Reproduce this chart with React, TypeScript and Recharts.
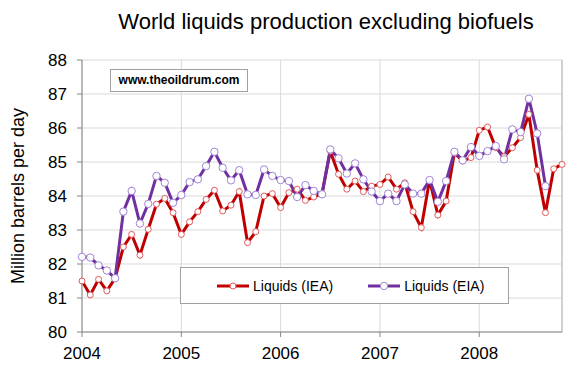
import { CartesianGrid, Line, LineChart, ReferenceLine, XAxis, YAxis } from 'recharts'

// month index 0 = Jan 2004
const yearTicks = [0, 12, 24, 36, 48]
const yearLabels = ['2004', '2005', '2006', '2007', '2008']
const yTicks = [80, 81, 82, 83, 84, 85, 86, 87, 88]

const ieaValues = [
    81.5, 81.09, 81.55, 81.21, 81.58, 82.5, 82.87, 82.26, 83.02, 83.76,
    83.93, 83.51, 82.87, 83.24, 83.54, 83.9, 84.17, 83.56, 83.73, 84.13,
    82.63, 82.95, 84.0, 84.07, 83.66, 84.1, 84.2, 83.87, 83.97, 84.07,
    85.32, 84.64, 84.2, 84.44, 84.13, 84.29, 84.34, 84.56, 84.2, 84.39,
    83.54, 83.07, 84.47, 83.44, 83.85, 85.27, 85.03, 85.13, 85.93, 86.03,
    85.42, 85.16, 85.42, 85.72, 86.4, 84.76, 83.51, 84.8, 84.93,
]

const eiaValues = [
    82.21, 82.19, 81.96, 81.81, 81.58, 83.54, 84.15, 83.19, 83.77, 84.59,
    84.39, 83.8, 84.03, 84.41, 84.49, 84.88, 85.3, 84.83, 84.46, 84.76,
    84.05, 84.03, 84.78, 84.59, 84.47, 84.44, 83.97, 84.32, 84.15, 84.05,
    85.37, 85.11, 84.66, 84.96, 84.49, 84.13, 83.85, 84.07, 83.85, 84.34,
    84.07, 84.07, 84.47, 83.83, 84.44, 85.3, 85.05, 85.44, 85.18, 85.32,
    85.47, 85.08, 85.96, 85.88, 86.86, 85.84, 84.29,
]

const data = ieaValues.map((v, i) => ({
    i,
    iea: v,
    eia: i < eiaValues.length ? eiaValues[i] : null,
}))

const FONT = '"Liberation Sans", Arial, sans-serif'
const RED = '#c00000'
const RED_DOT = '#e35a5a'
const PURPLE = '#7030a0'
const PURPLE_DOT = '#a184d6'

const tick = { fill: '#000', fontSize: 17, fontFamily: FONT }
const axisStroke = '#868686'

function LegendItem({ color, dot, label, r }: { color: string; dot: string; label: string; r: number }) {
    return (
        <div style={{ display: 'flex', alignItems: 'center' }}>
            <svg width={34} height={12}>
                <line x1={1} y1={6} x2={33} y2={6} stroke={color} strokeWidth={3} />
                <circle cx={17} cy={6} r={r} fill="#fff" stroke={dot} strokeWidth={1} />
            </svg>
            <span style={{ marginLeft: 3, fontSize: 14 }}>{label}</span>
        </div>
    )
}

export default function App() {
    return (
        <div
            style={{
                position: 'absolute',
                left: 0,
                top: 0,
                width: 585,
                height: 377,
                background: '#fff',
                fontFamily: FONT,
            }}
        >
            <div
                style={{
                    position: 'absolute',
                    left: 0,
                    width: 652,
                    top: 9,
                    textAlign: 'center',
                    fontSize: 22,
                }}
            >
                World liquids production excluding biofuels
            </div>
            <div
                style={{
                    position: 'absolute',
                    left: 18,
                    top: 196,
                    transform: 'translate(-50%, -50%) rotate(-90deg)',
                    whiteSpace: 'nowrap',
                    fontSize: 18,
                }}
            >
                Million barrels per day
            </div>
            <LineChart
                width={585}
                height={377}
                data={data}
                margin={{ top: 60, right: 23, bottom: 0, left: 0 }}
            >
                <CartesianGrid stroke="#d9d9d9" />
                <XAxis
                    type="number"
                    dataKey="i"
                    domain={[0, 58]}
                    ticks={yearTicks}
                    tickFormatter={(v) => yearLabels[yearTicks.indexOf(v)]}
                    tick={tick}
                    stroke={axisStroke}
                    tickSize={5}
                    tickMargin={10}
                    height={45}
                />
                <YAxis
                    domain={[80, 88]}
                    ticks={yTicks}
                    tick={tick}
                    stroke={axisStroke}
                    tickSize={5}
                    tickMargin={10}
                    width={82}
                    interval={0}
                />
                <ReferenceLine x={58} stroke="#c8c8c8" strokeWidth={1.5} />
                <Line
                    dataKey="iea"
                    stroke={RED}
                    strokeWidth={3}
                    dot={{ r: 3, fill: '#fff', stroke: RED_DOT, strokeWidth: 1 }}
                    activeDot={false}
                    isAnimationActive={false}
                />
                <Line
                    dataKey="eia"
                    stroke={PURPLE}
                    strokeWidth={3}
                    dot={{ r: 3.7, fill: '#fff', stroke: PURPLE_DOT, strokeWidth: 1 }}
                    activeDot={false}
                    connectNulls={false}
                    isAnimationActive={false}
                />
            </LineChart>
            <div
                style={{
                    position: 'absolute',
                    left: 110,
                    top: 69,
                    width: 136,
                    height: 21,
                    border: '1px solid #a0a0a0',
                    background: '#fff',
                    fontSize: 12,
                    fontWeight: 'bold',
                    lineHeight: '21px',
                    textAlign: 'center',
                }}
            >
                www.theoildrum.com
            </div>
            <div
                style={{
                    position: 'absolute',
                    left: 180,
                    top: 267,
                    width: 329,
                    height: 37,
                    border: '1px solid #a0a0a0',
                    background: '#fff',
                    display: 'flex',
                    alignItems: 'center',
                    paddingLeft: 35,
                    boxSizing: 'border-box',
                    gap: 34,
                }}
            >
                <LegendItem color={RED} dot={RED_DOT} label="Liquids (IEA)" r={3} />
                <LegendItem color={PURPLE} dot={PURPLE_DOT} label="Liquids (EIA)" r={3.7} />
            </div>
        </div>
    )
}
